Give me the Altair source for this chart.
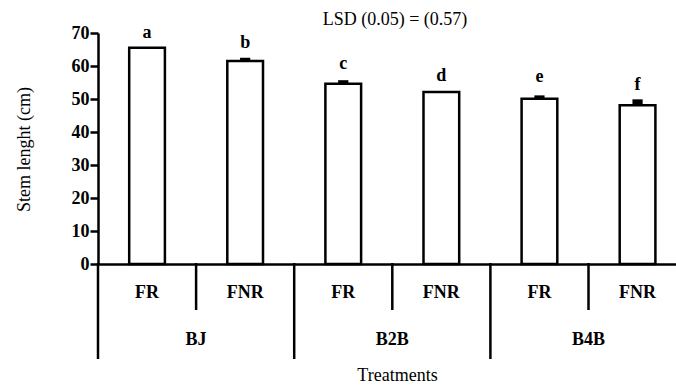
import altair as alt
import pandas as pd

# ---- data ----
groups = ["BJ", "B2B", "B4B"]
treatments = ["FR", "FNR", "FR", "FNR", "FR", "FNR"]
stem_length = [65.5, 61.5, 54.6, 52.1, 50.1, 48.1]
std_err = [0.0, 1.0, 1.1, 0.0, 1.0, 1.8]
letters = ["a", "b", "c", "d", "e", "f"]
letter_pos = [68.5, 65.6, 59.2, 55.5, 55.2, 52.8]
y_ticks = [0, 10, 20, 30, 40, 50, 60, 70]
sub_separators = [1, 3, 5]
group_separators = [0, 2, 4]
group_centers = [1, 3, 5]

FONT = "Liberation Serif"
BAR_HALF = 0.182
CAP_HALF = 0.052
X_MAX = 578 / 98.1

bars = pd.DataFrame({
    "treat": treatments,
    "xc": [i + 0.5 for i in range(6)],
    "value": stem_length,
    "err": std_err,
    "letter": letters,
    "lpos": letter_pos,
})
bars["x0"] = bars["xc"] - BAR_HALF
bars["x1"] = bars["xc"] + BAR_HALF
bars["c0"] = bars["xc"] - CAP_HALF
bars["c1"] = bars["xc"] + CAP_HALF
bars["top"] = bars["value"] + bars["err"]
bars["zero"] = 0

xscale = alt.Scale(domain=[0, X_MAX], nice=False, zero=False)
yscale = alt.Scale(domain=[0, 70], nice=False)

xaxis = alt.Axis(title="Treatments", domain=True, domainColor="black",
                 domainWidth=2.5, ticks=False, labels=False, grid=False,
                 titleFont=FONT, titleFontSize=18, titleFontWeight="normal",
                 titleColor="black", titleX=299, titleY=116,
                 titleAlign="center", titleBaseline="alphabetic")
yaxis = alt.Axis(title="Stem lenght (cm)", values=y_ticks, tickCount=8, grid=False,
                 labelOverlap=False,
                 domainColor="black", domainWidth=2.5, tickColor="black",
                 tickWidth=2.5, tickSize=8, labelPadding=1,
                 labelFont=FONT, labelFontSize=18, labelFontWeight="bold",
                 labelColor="black", titleFont=FONT, titleFontSize=18,
                 titleFontWeight="normal", titleColor="black",
                 titleX=-74, titleY=116, titleAngle=270,
                 titleAlign="center", titleBaseline="middle")

base = alt.Chart(bars)

bar_layer = base.mark_bar(fill="white", stroke="black", strokeWidth=2.5).encode(
    x=alt.X("x0:Q", scale=xscale, axis=xaxis),
    x2="x1:Q",
    y=alt.Y("value:Q", scale=yscale, axis=yaxis),
    y2="zero:Q",
)

cap_layer = base.mark_bar(color="black").encode(
    x=alt.X("c0:Q", scale=xscale, axis=xaxis),
    x2="c1:Q",
    y=alt.Y("value:Q", scale=yscale, axis=yaxis),
    y2="top:Q",
)

letter_layer = base.mark_text(font=FONT, fontSize=18, fontWeight="bold",
                              baseline="alphabetic", color="black").encode(
    x=alt.X("xc:Q", scale=xscale, axis=xaxis),
    y=alt.Y("lpos:Q", scale=yscale, axis=yaxis),
    text="letter:N",
)

treat_layer = base.mark_text(font=FONT, fontSize=18, fontWeight="bold",
                             baseline="middle", color="black").encode(
    x=alt.X("xc:Q", scale=xscale, axis=xaxis),
    y=alt.value(260),
    text="treat:N",
)

grp = pd.DataFrame({"g": groups, "gx": group_centers})
group_layer = alt.Chart(grp).mark_text(font=FONT, fontSize=18, fontWeight="bold",
                                       baseline="middle", color="black").encode(
    x=alt.X("gx:Q", scale=xscale, axis=xaxis),
    y=alt.value(307),
    text="g:N",
)

short_sep = alt.Chart(pd.DataFrame({"sx": sub_separators})).mark_rule(
    color="black", strokeWidth=2.5).encode(
    x=alt.X("sx:Q", scale=xscale, axis=xaxis),
    y=alt.value(230),
    y2=alt.value(277),
)

long_sep = alt.Chart(pd.DataFrame({"sx": group_separators})).mark_rule(
    color="black", strokeWidth=2.5).encode(
    x=alt.X("sx:Q", scale=xscale, axis=xaxis),
    y=alt.value(230),
    y2=alt.value(326),
)

chart = alt.layer(
    bar_layer, cap_layer, letter_layer, treat_layer, group_layer, short_sep, long_sep
).properties(
    width=578,
    height=231,
    padding={"left": 98, "top": 33, "right": 0, "bottom": 121},
    autosize="none",
    title=alt.TitleParams("LSD (0.05) = (0.57)", font=FONT, fontSize=18,
                          fontWeight="normal", color="black", anchor="middle",
                          dx=8, dy=11, offset=6),
).configure_view(stroke=None)

chart.save("out.html", embed_options={"renderer": "svg", "actions": False})
